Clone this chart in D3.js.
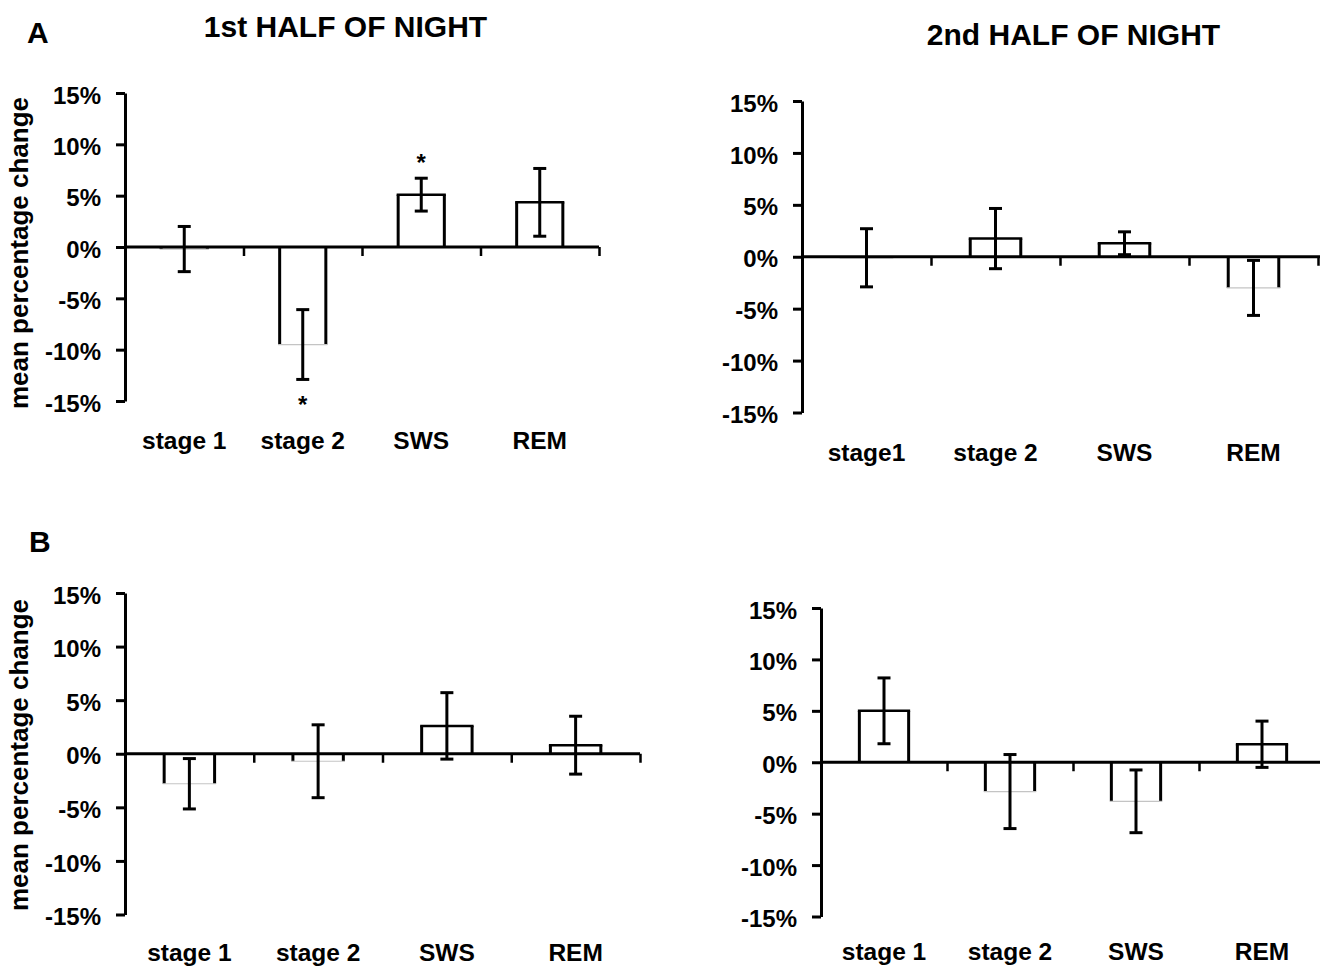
<!DOCTYPE html>
<html>
<head>
<meta charset="utf-8">
<script src="https://cdn.jsdelivr.net/npm/d3@7"></script>
<style>
  body { margin: 0; background: #fff; }
  svg text { font-family: "Liberation Sans", Arial, Helvetica, sans-serif; font-weight: bold; fill: #000; }
</style>
</head>
<body>
<svg id="chart" width="1320" height="968"></svg>
<script>
// ---------- DATA ----------
const categories = ["stage 1", "stage 2", "SWS", "REM"];
const categoriesA2 = ["stage1", "stage 2", "SWS", "REM"];
const yTicks = [-15, -10, -5, 0, 5, 10, 15];

// Panel A, 1st half of night
const a1Values = [-0.2, -9.5, 5.1, 4.35];
const a1Errors = [2.2, 3.4, 1.6, 3.3];
const a1Sig = [false, true, true, false];

// Panel A, 2nd half of night
const a2Values = [-0.1, 1.75, 1.3, -3.0];
const a2Errors = [2.8, 2.9, 1.1, 2.65];
const a2Sig = [false, false, false, false];

// Panel B, 1st half of night
const b1Values = [-2.8, -0.7, 2.6, 0.8];
const b1Errors = [2.35, 3.4, 3.1, 2.7];
const b1Sig = [false, false, false, false];

// Panel B, 2nd half of night
const b2Values = [5.0, -2.85, -3.8, 1.75];
const b2Errors = [3.2, 3.6, 3.05, 2.25];
const b2Sig = [false, false, false, false];

const titles = ["1st HALF OF NIGHT", "2nd HALF OF NIGHT"];
const yLabel = "mean percentage change";

// ---------- DRAWING ----------
const svg = d3.select("#chart");

function panel(cfg) {
  const { cats, values, errors, sig, x0, x1, yTop, yBot, axisEnd, ylab, labelPad } = cfg;
  const g = svg.append("g");
  const y = d3.scaleLinear().domain([-15, 15]).range([yBot, yTop]);
  const x = d3.scaleBand().domain(cats).range([x0, x1]).paddingInner(0).paddingOuter(0);
  const xb = d3.scaleLinear().domain([0, cats.length]).range([x0, x1]);
  const bw = x.bandwidth() * 0.415;
  const y0 = y(0);

  // bars
  const bars = g.append("g");
  cats.forEach((c, i) => {
    const cx = x(c) + x.bandwidth() / 2;
    const v = values[i];
    const yv = y(v);
    const l = cx - bw / 2 + 1.5, r = cx + bw / 2 - 1.5;
    bars.append("rect")
      .attr("x", l).attr("width", r - l)
      .attr("y", Math.min(yv, y0)).attr("height", Math.abs(yv - y0))
      .attr("fill", "#fff");
    [l, r].forEach(sx => {
      bars.append("line")
        .attr("x1", sx).attr("x2", sx).attr("y1", y0).attr("y2", yv)
        .attr("stroke", "#000").attr("stroke-width", 3);
    });
    bars.append("line")
      .attr("x1", l - 1.5).attr("x2", r + 1.5).attr("y1", yv).attr("y2", yv)
      .attr("stroke", v >= 0 ? "#000" : "#c4c4c4")
      .attr("stroke-width", v >= 0 ? 2.5 : 1.2);
  });

  // y axis
  const ya = d3.axisLeft(y).tickValues(yTicks).tickSize(9).tickSizeOuter(0)
    .tickPadding(15).tickFormat(d => d + "%");
  const yg = g.append("g").attr("transform", `translate(${x0},0)`).call(ya);
  yg.attr("font-family", null).attr("font-size", null);
  yg.select(".domain").attr("stroke", "#000").attr("stroke-width", 3);
  yg.selectAll(".tick line").attr("stroke", "#000").attr("stroke-width", 3);
  yg.selectAll(".tick text").style("font-size", "24px").attr("dy", "0.42em");

  // x axis line at zero
  g.append("line")
    .attr("x1", x0).attr("x2", axisEnd).attr("y1", y0).attr("y2", y0)
    .attr("stroke", "#000").attr("stroke-width", 3);
  const xt = d3.axisBottom(xb).tickValues(d3.range(1, cats.length + 1))
    .tickSize(9).tickSizeOuter(0).tickFormat("");
  const xtg = g.append("g").attr("transform", `translate(0,${y0})`).call(xt);
  xtg.select(".domain").remove();
  xtg.selectAll(".tick line").attr("stroke", "#000").attr("stroke-width", 2.5);

  // category labels
  const xa = d3.axisBottom(x).tickSize(0).tickPadding(labelPad);
  const xg = g.append("g").attr("transform", `translate(0,${yBot})`).call(xa);
  xg.attr("font-family", null).attr("font-size", null);
  xg.select(".domain").remove();
  xg.selectAll(".tick text").style("font-size", "24.5px");

  // error bars
  const eb = g.append("g").attr("stroke", "#000").attr("stroke-width", 3);
  cats.forEach((c, i) => {
    const cx = x(c) + x.bandwidth() / 2;
    const hi = y(values[i] + errors[i]), lo = y(values[i] - errors[i]);
    eb.append("line").attr("x1", cx).attr("x2", cx).attr("y1", hi).attr("y2", lo);
    [hi, lo].forEach(yy => {
      eb.append("line").attr("x1", cx - 6.5).attr("x2", cx + 6.5).attr("y1", yy).attr("y2", yy);
    });
    if (sig[i]) {
      const center = values[i] >= 0 ? hi - 20 : lo + 21;
      g.append("text").attr("x", cx).attr("y", center + 13)
        .attr("text-anchor", "middle").style("font-size", "24px").text("*");
    }
  });

  if (ylab) {
    g.append("text")
      .attr("transform", `translate(${ylab.x},${ylab.y}) rotate(-90)`)
      .attr("text-anchor", "middle").style("font-size", "26px").text(yLabel);
  }
}

panel({ cats: categories, values: a1Values, errors: a1Errors, sig: a1Sig,
  x0: 125, x1: 599, yTop: 93, yBot: 401, axisEnd: 599, labelPad: 31, ylab: { x: 28, y: 253 } });
panel({ cats: categoriesA2, values: a2Values, errors: a2Errors, sig: a2Sig,
  x0: 802, x1: 1318, yTop: 101, yBot: 412.5, axisEnd: 1320, labelPad: 31 });
panel({ cats: categories, values: b1Values, errors: b1Errors, sig: b1Sig,
  x0: 125, x1: 640, yTop: 593, yBot: 914.5, axisEnd: 640, labelPad: 29, ylab: { x: 28, y: 755 } });
panel({ cats: categories, values: b2Values, errors: b2Errors, sig: b2Sig,
  x0: 821, x1: 1325, yTop: 608, yBot: 916.5, axisEnd: 1320, labelPad: 26 });

// panel letters and titles
svg.append("text").attr("x", 27).attr("y", 43).style("font-size", "30px").text("A");
svg.append("text").attr("x", 29).attr("y", 552).style("font-size", "30px").text("B");
svg.append("text").attr("x", 345.5).attr("y", 37).attr("text-anchor", "middle")
  .style("font-size", "30px").text(titles[0]);
svg.append("text").attr("x", 1073.5).attr("y", 45).attr("text-anchor", "middle")
  .style("font-size", "30px").text(titles[1]);
</script>
</body>
</html>
